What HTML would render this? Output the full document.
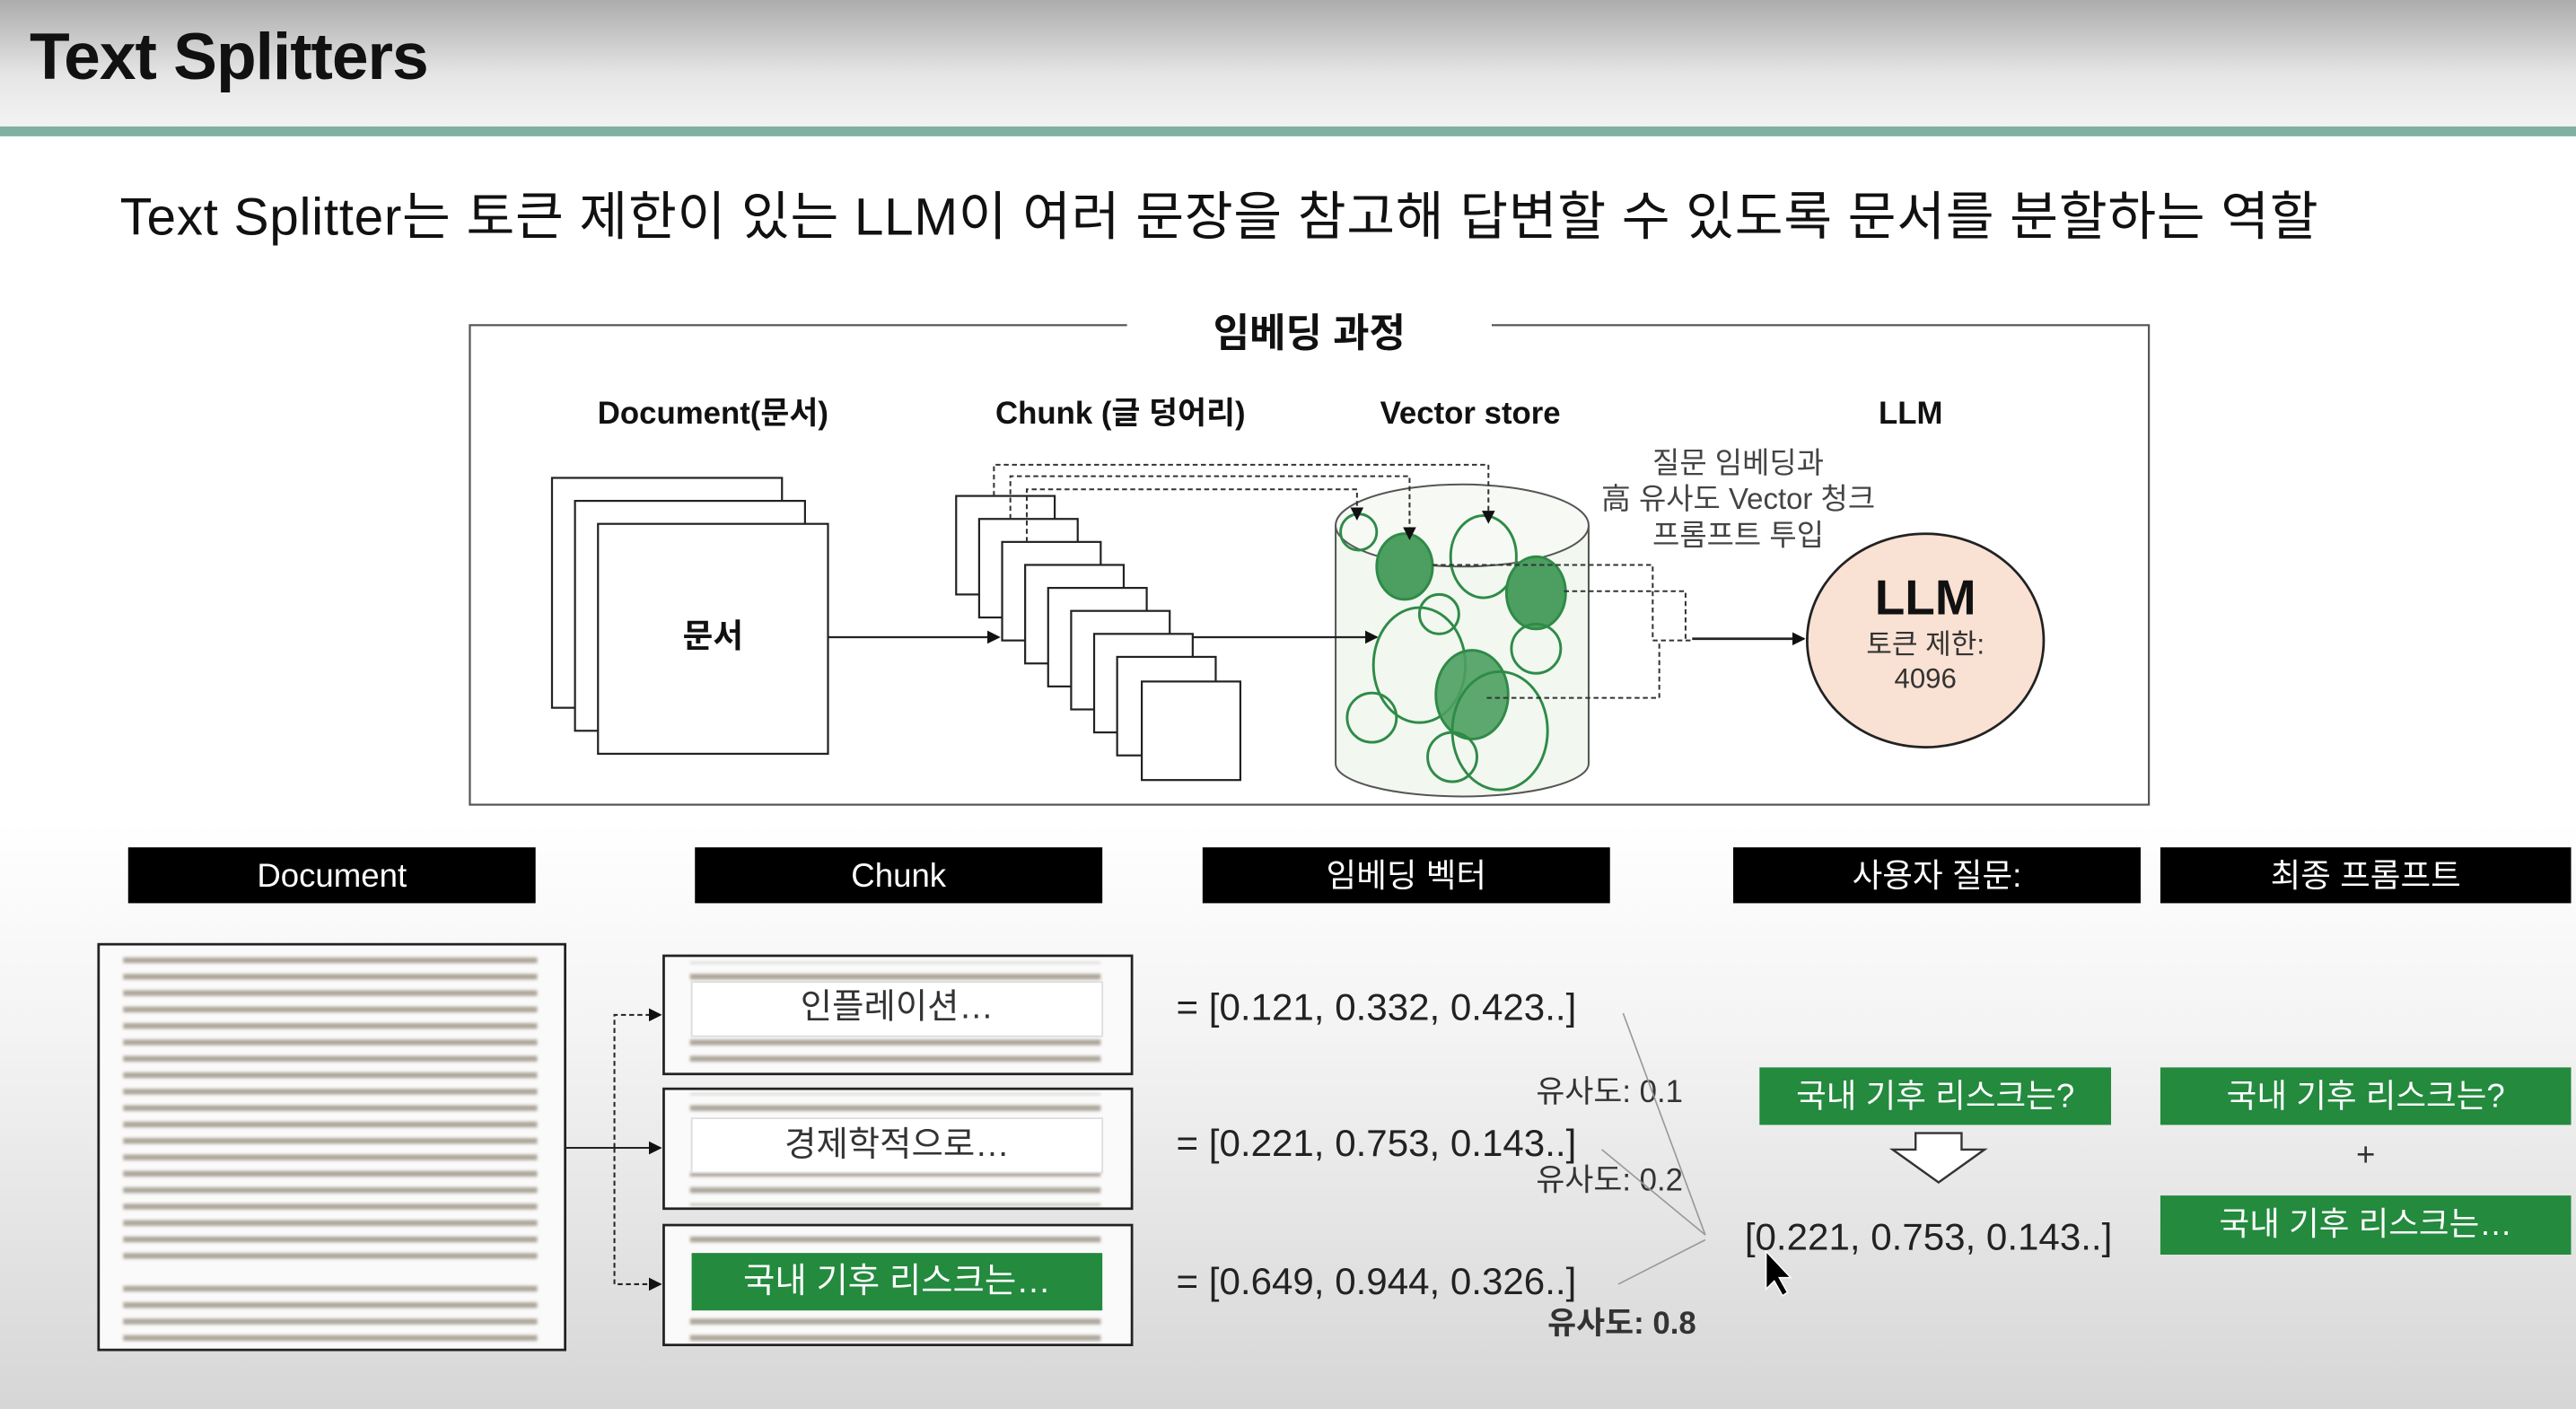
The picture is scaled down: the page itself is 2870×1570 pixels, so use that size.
<!DOCTYPE html>
<html><head><meta charset="utf-8"><style>
html,body{margin:0;padding:0;width:2870px;height:1570px;overflow:hidden;background:#fff}
svg{display:block}
text{font-family:"Liberation Sans","Noto Sans CJK KR",sans-serif}
</style></head><body>
<svg width="2870" height="1570" viewBox="0 0 1568 858" preserveAspectRatio="none" xmlns="http://www.w3.org/2000/svg">
<defs>
<linearGradient id="hd" x1="0" y1="0" x2="0" y2="1"><stop offset="0" stop-color="#acacac"/><stop offset="0.6" stop-color="#e6e6e6"/><stop offset="1" stop-color="#f3f3f3"/></linearGradient>
<linearGradient id="bt" x1="0" y1="0" x2="0" y2="1"><stop offset="0" stop-color="#ffffff"/><stop offset="0.35" stop-color="#f4f4f4"/><stop offset="1" stop-color="#d6d6d6"/></linearGradient>
<marker id="ar" markerWidth="8" markerHeight="8" refX="7" refY="4" orient="auto" markerUnits="userSpaceOnUse"><path d="M0,0 L8,4 L0,8 Z" fill="#111"/></marker>
<filter id="bl"><feGaussianBlur stdDeviation="0.9"/></filter>
<pattern id="tx" width="300" height="10" patternUnits="userSpaceOnUse"><rect x="0" y="3" width="300" height="3.5" fill="#7a6e5c" opacity="0.6"/></pattern>
</defs>
<rect x="0" y="0" width="1568" height="77" fill="url(#hd)"/>
<rect x="0" y="77" width="1568" height="6" fill="#7fb0a2"/>
<rect x="0" y="500" width="1568" height="358" fill="url(#bt)"/>
<text x="18" y="48" font-size="40" fill="#111" font-weight="bold" textLength="243">Text Splitters</text>
<text x="73" y="143" font-size="32" fill="#111" textLength="1338">Text Splitter는 토큰 제한이 있는 LLM이 여러 문장을 참고해 답변할 수 있도록 문서를 분할하는 역할</text>

<rect x="286" y="198" width="1022" height="292" fill="#fff" stroke="#555" stroke-width="1.2"/>
<rect x="686" y="188" width="222" height="24" fill="#fff"/>
<text x="797" y="211" font-size="24" font-weight="bold" text-anchor="middle" fill="#111">임베딩 과정</text>
<g font-size="19" text-anchor="middle" fill="#111" font-weight="bold">
<text x="434" y="258">Document(문서)</text>
<text x="682" y="258">Chunk (글 덩어리)</text>
<text x="895" y="258">Vector store</text>
<text x="1163" y="258">LLM</text>
</g>
<g fill="#fff" stroke="#222" stroke-width="1.2">
<rect x="336" y="291" width="140" height="140"/>
<rect x="350" y="305" width="140" height="140"/>
<rect x="364" y="319" width="140" height="140"/>
</g>
<text x="434" y="394" font-size="20" font-weight="bold" text-anchor="middle" fill="#111">문서</text>
<line x1="504" y1="388" x2="608" y2="388" stroke="#222" stroke-width="1.2" marker-end="url(#ar)"/>
<g fill="#fff" stroke="#222" stroke-width="1.2">
<rect x="582" y="302" width="60" height="60"/>
<rect x="596" y="316" width="60" height="60"/>
<rect x="610" y="330" width="60" height="60"/>
<rect x="624" y="344" width="60" height="60"/>
<rect x="638" y="358" width="60" height="60"/>
<rect x="652" y="372" width="60" height="60"/>
<rect x="666" y="386" width="60" height="60"/>
<rect x="680" y="400" width="60" height="60"/>
<rect x="695" y="415" width="60" height="60"/>
</g>
<!-- cylinder -->
<path d="M813,320 V465 A77,20 0 0 0 967,465 V320" fill="#f2f7f0" stroke="#555" stroke-width="1.1"/>
<ellipse cx="890" cy="320" rx="77" ry="25" fill="#f6f9f4" stroke="#555" stroke-width="1.1"/>
<g stroke="#2e8b47" stroke-width="1.6" fill="none">
<circle cx="827" cy="324" r="11"/>
<ellipse cx="855" cy="345" rx="17" ry="20" fill="#4c9f60"/>
<ellipse cx="903" cy="339" rx="20" ry="25"/>
<ellipse cx="935" cy="361" rx="18" ry="22" fill="#4c9f60"/>
<circle cx="876" cy="374" r="12"/>
<ellipse cx="864" cy="405" rx="28" ry="35"/>
<circle cx="935" cy="395" r="15"/>
<ellipse cx="896" cy="423" rx="22" ry="27" fill="#4c9f60" fill-opacity="0.9"/>
<circle cx="835" cy="437" r="15"/>
<ellipse cx="913" cy="445" rx="29" ry="36"/>
<circle cx="884" cy="461" r="15"/>
</g>
<line x1="726" y1="388" x2="838" y2="388" stroke="#222" stroke-width="1.2" marker-end="url(#ar)"/>
<g fill="none" stroke="#333" stroke-width="1.1" stroke-dasharray="3,2">
<path d="M605,302 V283 H906 V318" marker-end="url(#ar)"/>
<path d="M615,316 V290 H858 V328" marker-end="url(#ar)"/>
<path d="M625,330 V298 H826 V316" marker-end="url(#ar)"/>
<path d="M872,344 H1006 V390 H1030"/>
<path d="M952,360 H1026 V390"/>
<path d="M905,425 H1010 V390"/>
</g>
<line x1="1030" y1="389" x2="1098" y2="389" stroke="#222" stroke-width="1.5" marker-end="url(#ar)"/>
<ellipse cx="1172" cy="390" rx="72" ry="65" fill="#f9e1d3" stroke="#222" stroke-width="1.5"/>
<text x="1172" y="374" font-size="30" text-anchor="middle" fill="#111" font-weight="bold">LLM</text>
<text x="1172" y="398" font-size="17" text-anchor="middle" fill="#333">토큰 제한:</text>
<text x="1172" y="419" font-size="17" text-anchor="middle" fill="#333">4096</text>
<g font-size="18" text-anchor="middle" fill="#444">
<text x="1058" y="288">질문 임베딩과</text>
<text x="1058" y="310">高 유사도 Vector 청크</text>
<text x="1058" y="332">프롬프트 투입</text>
</g>

<!-- bottom labels -->
<g fill="#000">
<rect x="78" y="516" width="248" height="34"/>
<rect x="423" y="516" width="248" height="34"/>
<rect x="732" y="516" width="248" height="34"/>
<rect x="1055" y="516" width="248" height="34"/>
<rect x="1315" y="516" width="250" height="34"/>
</g>
<g font-size="20" fill="#fff" text-anchor="middle">
<text x="202" y="540">Document</text>
<text x="547" y="540">Chunk</text>
<text x="856" y="540">임베딩 벡터</text>
<text x="1179" y="540">사용자 질문:</text>
<text x="1440" y="540">최종 프롬프트</text>
</g>
<!-- document -->
<rect x="60" y="575" width="284" height="247" fill="#fafafa" stroke="#222" stroke-width="1.5"/>
<g filter="url(#bl)">
<rect x="75" y="582" width="252" height="70" fill="url(#tx)"/>
<rect x="75" y="647" width="252" height="100" fill="url(#tx)"/>
<rect x="75" y="750" width="252" height="22" fill="url(#tx)"/>
<rect x="75" y="777" width="252" height="42" fill="url(#tx)"/>
</g>
<g fill="#fafafa" stroke="#222" stroke-width="1.5">
<rect x="404" y="582" width="285" height="72"/>
<rect x="404" y="663" width="285" height="73"/>
<rect x="404" y="746" width="285" height="73"/>
</g>
<g filter="url(#bl)">
<rect x="420" y="586" width="250" height="12" fill="url(#tx)"/>
<rect x="420" y="631" width="250" height="20" fill="url(#tx)"/>
<rect x="420" y="666" width="250" height="14" fill="url(#tx)"/>
<rect x="420" y="714" width="250" height="20" fill="url(#tx)"/>
<rect x="420" y="749" width="250" height="12" fill="url(#tx)"/>
<rect x="420" y="799" width="250" height="18" fill="url(#tx)"/>
</g>
<rect x="421" y="598" width="250" height="33" fill="#fff" stroke="#ddd"/>
<rect x="421" y="681" width="250" height="33" fill="#fff" stroke="#ddd"/>
<rect x="421" y="763" width="250" height="35" fill="#238a3e"/>
<g font-size="21" text-anchor="middle">
<text x="546" y="620" fill="#333">인플레이션…</text>
<text x="546" y="704" fill="#333">경제학적으로…</text>
<text x="546" y="787" fill="#fff">국내 기후 리스크는…</text>
</g>
<g fill="none" stroke="#222" stroke-width="1.1">
<line x1="344" y1="699" x2="402" y2="699" marker-end="url(#ar)"/>
<path d="M374,699 V618 H402" stroke-dasharray="3,2" marker-end="url(#ar)"/>
<path d="M374,699 V782 H402" stroke-dasharray="3,2" marker-end="url(#ar)"/>
</g>
<g font-size="23" fill="#222">
<text x="716" y="621">= [0.121, 0.332, 0.423..]</text>
<text x="716" y="704">= [0.221, 0.753, 0.143..]</text>
<text x="716" y="788">= [0.649, 0.944, 0.326..]</text>
<text x="1062" y="761">[0.221, 0.753, 0.143..]</text>
</g>
<g font-size="19" fill="#333">
<text x="935" y="671">유사도: 0.1</text>
<text x="935" y="725">유사도: 0.2</text>
<text x="942" y="812" font-weight="bold">유사도: 0.8</text>
</g>
<g stroke="#999" stroke-width="0.9" fill="none">
<line x1="988" y1="617" x2="1038" y2="752"/>
<line x1="975" y1="700" x2="1038" y2="752"/>
<line x1="985" y1="782" x2="1038" y2="755"/>
</g>
<rect x="1071" y="650" width="214" height="35" fill="#238a3e"/>
<text x="1178" y="674" font-size="20" fill="#fff" text-anchor="middle">국내 기후 리스크는?</text>
<path d="M1166,690 H1194 V700 H1208 L1180,720 L1152,700 H1166 Z" fill="#fff" stroke="#333" stroke-width="1.3"/>
<path d="M1075,762 L1075,785 L1080,780 L1085,789 L1088,787 L1083,778 L1090,778 Z" fill="#000" stroke="#fff" stroke-width="0.8"/>
<rect x="1315" y="650" width="250" height="35" fill="#238a3e"/>
<text x="1440" y="674" font-size="20" fill="#fff" text-anchor="middle">국내 기후 리스크는?</text>
<text x="1440" y="710" font-size="20" fill="#333" text-anchor="middle">+</text>
<rect x="1315" y="728" width="250" height="36" fill="#238a3e"/>
<text x="1440" y="752" font-size="20" fill="#fff" text-anchor="middle">국내 기후 리스크는…</text>
</svg>
</body></html>
